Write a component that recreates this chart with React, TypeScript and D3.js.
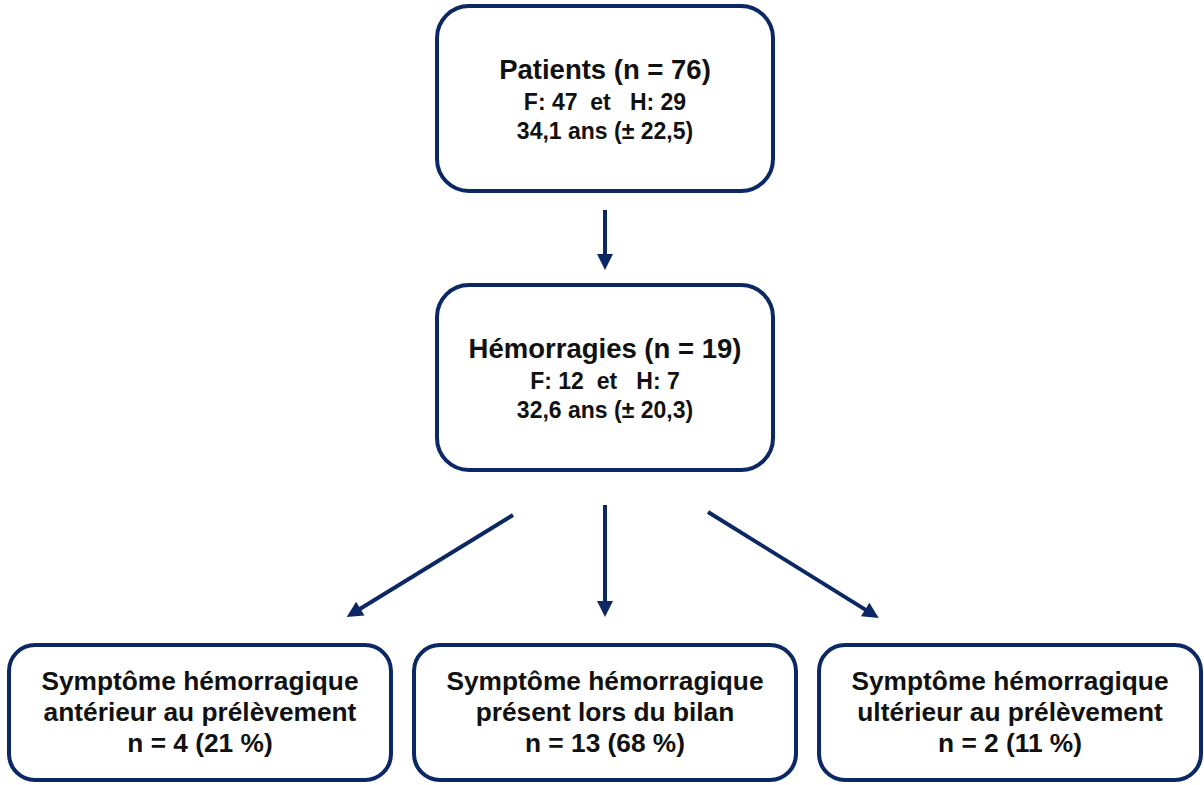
import React from 'react';
import * as d3 from 'd3';

// Box contents
const topTitles = ['Patients (n = 76)', 'Hémorragies (n = 19)'];
const topSexes = ['F: 47  et   H: 29', 'F: 12  et   H: 7'];
const topAges = ['34,1 ans (± 22,5)', '32,6 ans (± 20,3)'];

const childIds = ['anterieur', 'present', 'ulterieur'];
const childLines = [
  ['Symptôme hémorragique', 'antérieur au prélèvement', 'n = 4 (21 %)'],
  ['Symptôme hémorragique', 'présent lors du bilan', 'n = 13 (68 %)'],
  ['Symptôme hémorragique', 'ultérieur au prélèvement', 'n = 2 (11 %)'],
];

const W = 1204;
const H = 785;
const NAVY = '#0b2865';
const FONT = '"Liberation Sans", Arial, sans-serif';

// bandes horizontales pour la rangée du bas
const xChild = d3.scaleBand<string>().domain(childIds).range([7, 1203]).paddingInner(0.047);

// niveaux verticaux des deux boites du haut
const yLevel = d3.scalePoint<number>().domain([0, 1]).range([4, 283]);

const topBox = { x: 435, w: 340, h: 189 };
const childBox = { y: 643, h: 139 };

// fleches : depart relatif au centre du parent, pointe relative a la bande enfant
const edgeLayout = [
  { dx0: -92, y0: 515, fx: 0.88, y1: 617 },
  { dx0: 0, y0: 505, fx: 0.5, y1: 617 },
  { dx0: 103, y0: 512, fx: 0.16, y1: 618 },
];

const arrowPath = (x0: number, y0: number, x1: number, y1: number) => {
  const len = Math.hypot(x1 - x0, y1 - y0);
  const ux = (x1 - x0) / len;
  const uy = (y1 - y0) / len;
  const hl = 16;
  const hw = 8;
  const bx = x1 - ux * hl;
  const by = y1 - uy * hl;
  const p = d3.path();
  p.moveTo(x1, y1);
  p.lineTo(bx - uy * hw, by + ux * hw);
  p.lineTo(bx + uy * hw, by - ux * hw);
  p.closePath();
  return { shaft: [x0, y0, bx + ux * 2, by + uy * 2], head: p.toString() };
};

const Arrow = ({ x0, y0, x1, y1 }: { x0: number; y0: number; x1: number; y1: number }) => {
  const a = arrowPath(x0, y0, x1, y1);
  return (
    <g>
      <line x1={a.shaft[0]} y1={a.shaft[1]} x2={a.shaft[2]} y2={a.shaft[3]} stroke={NAVY} strokeWidth={4} />
      <path d={a.head} fill={NAVY} />
    </g>
  );
};

export default function App() {
  const cx = topBox.x + topBox.w / 2;

  return (
    <svg
      width={W}
      height={H}
      viewBox={`0 0 ${W} ${H}`}
      style={{ position: 'absolute', left: 0, top: 0, background: '#fff' }}
      fontFamily={FONT}
      fontWeight="bold"
    >
      {topTitles.map((t, i) => {
        const y = yLevel(i) as number;
        return (
          <g key={t}>
            <rect
              x={topBox.x + 2}
              y={y + 2}
              width={topBox.w - 4}
              height={topBox.h - 4}
              rx={32}
              fill="#fff"
              stroke={NAVY}
              strokeWidth={4}
            />
            <text x={cx} y={y + 75} textAnchor="middle" fontSize={27.5} fill="#111">
              {t}
            </text>
            <text x={cx} y={y + 106} textAnchor="middle" fontSize={23} fill="#111" style={{ whiteSpace: 'pre' }}>
              {topSexes[i]}
            </text>
            <text x={cx} y={y + 135} textAnchor="middle" fontSize={23} fill="#111">
              {topAges[i]}
            </text>
          </g>
        );
      })}

      {/* fleche patients -> hemorragies */}
      <Arrow x0={cx} y0={(yLevel(0) as number) + topBox.h + 17} x1={cx} y1={(yLevel(1) as number) - 13} />

      {childIds.map((id, i) => {
        const x = xChild(id) as number;
        const bw = xChild.bandwidth();
        const e = edgeLayout[i];
        return (
          <g key={id}>
            <Arrow x0={cx + e.dx0} y0={e.y0} x1={x + bw * e.fx} y1={e.y1} />
            <rect
              x={x + 2}
              y={childBox.y + 2}
              width={bw - 4}
              height={childBox.h - 4}
              rx={26}
              fill="#fff"
              stroke={NAVY}
              strokeWidth={4}
            />
            {childLines[i].map((l, j) => (
              <text
                key={j}
                x={x + bw / 2}
                y={childBox.y + 47 + j * 31}
                textAnchor="middle"
                fontSize={26.3}
                fill="#111"
              >
                {l}
              </text>
            ))}
          </g>
        );
      })}
    </svg>
  );
}
